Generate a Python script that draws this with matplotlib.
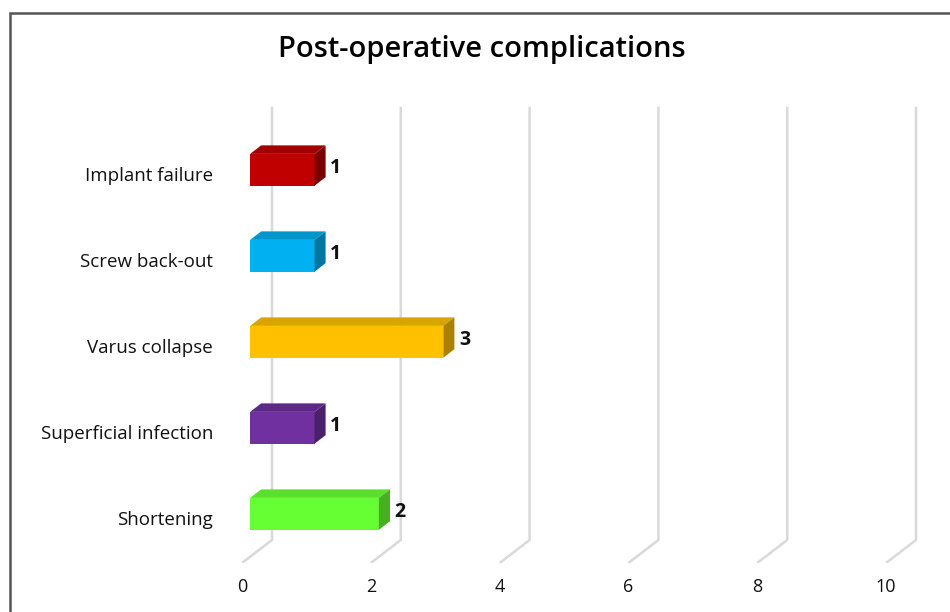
import matplotlib.pyplot as plt
from matplotlib.patches import Polygon, Rectangle

categories = ["Shortening", "Superficial infection", "Varus collapse",
              "Screw back-out", "Implant failure"]
values = [2, 1, 3, 1, 1]
front_colors = ["#66FF33", "#7030A0", "#FFC000", "#00B0F0", "#C00000"]
top_colors = ["#5AE02C", "#5E2888", "#D9A300", "#0096CC", "#A30000"]
side_colors = ["#46B020", "#4A1F6C", "#AA8000", "#0077A3", "#7A0000"]
xticks = [0, 2, 4, 6, 8, 10]
title = "Post-operative complications"

plt.rcParams["font.family"] = ["Open Sans", "DejaVu Sans"]

fig = plt.figure(figsize=(9.5, 6.12), dpi=100)
ax = fig.add_axes([242 / 950, 1 - 563 / 612, 688 / 950, 458 / 612])
ax.set_xlim(0, 688 / 64.4)
ax.set_ylim(0, 458 / 86)
ax.axis("off")

# depth offsets of the pseudo-3d box (full depth, in data units)
DX, DY = 30 / 64.4, 23 / 86
d0, d1 = 0.27, 0.64   # bar front/back depth fraction
bar_h = 0.37

# back-wall gridlines and floor diagonals
for t in xticks:
    ax.plot([t, t + DX, t + DX], [0, DY, 458 / 86 - 0.02], color="#D9D9D9",
            lw=1.8, solid_capstyle="butt", zorder=1)
    ax.text(t, -0.28, str(t), ha="center", va="center", fontsize=13, color="#111111")

for i, (cat, v) in enumerate(zip(categories, values)):
    yc = i + 0.5
    fx, fy = d0 * DX, yc - bar_h / 2 + d0 * DY
    ox, oy = (d1 - d0) * DX, (d1 - d0) * DY
    x0, x1 = fx, v + fx
    y0, y1 = fy, fy + bar_h
    ax.add_patch(Rectangle((x0, y0), x1 - x0, bar_h, facecolor=front_colors[i],
                           edgecolor="none", zorder=3))
    ax.add_patch(Polygon([(x0, y1), (x1, y1), (x1 + ox, y1 + oy), (x0 + ox, y1 + oy)],
                         closed=True, facecolor=top_colors[i], edgecolor="none", zorder=3))
    ax.add_patch(Polygon([(x1, y0), (x1 + ox, y0 + oy), (x1 + ox, y1 + oy), (x1, y1)],
                         closed=True, facecolor=side_colors[i], edgecolor="none", zorder=3))
    ax.text(x1 + ox + 0.07, y0 + bar_h / 2 + 0.02, str(v), ha="left", va="center",
            fontsize=14, fontweight="bold", color="#111111", zorder=4)
    ax.text(-0.45, yc, cat, ha="right", va="center", fontsize=13.5, color="#111111")

fig.text(482 / 950, 1 - 50 / 612, title, ha="center", va="center", fontsize=21,
         fontweight="semibold", color="#000000")

# chart border
fig.patches.append(Rectangle((10 / 950, -0.05), 1.1, 1 - 13 / 612 + 0.05,
                             transform=fig.transFigure, fill=False,
                             edgecolor="#555555", lw=1.8))

fig.savefig("out.png", dpi=100)
